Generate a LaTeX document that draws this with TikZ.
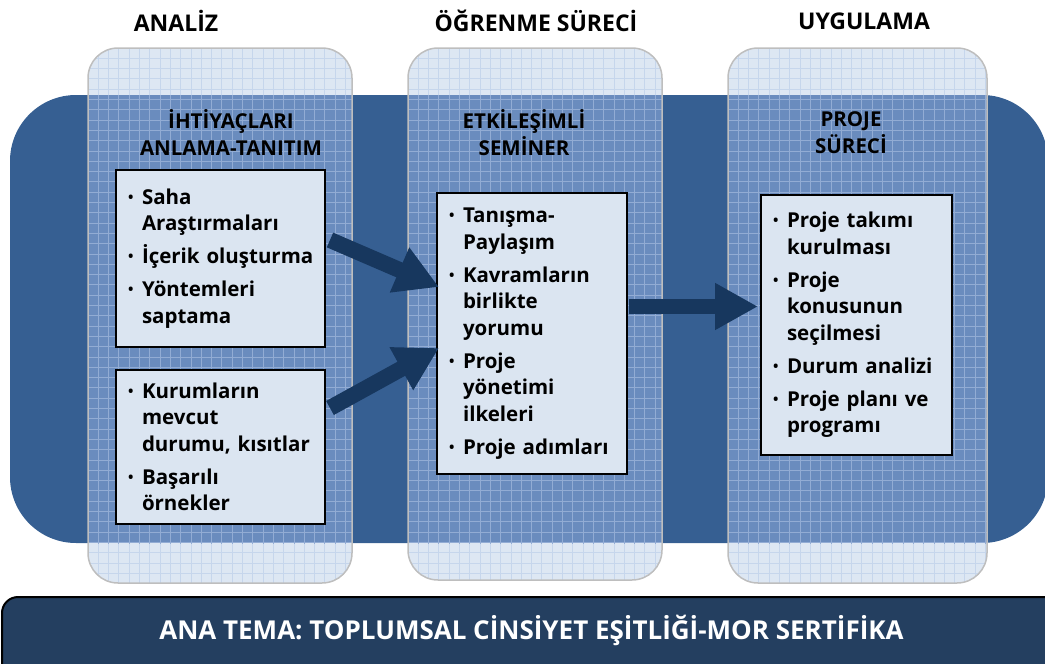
\documentclass[tikz,border=0pt]{standalone}
\usepackage{fontspec}
\setmainfont{Open Sans}
\usepackage{graphicx}
\usetikzlibrary{arrows.meta}
\definecolor{bandc}{RGB}{54,95,146}
\definecolor{collight}{RGB}{221,231,243}
\definecolor{collightline}{RGB}{198,214,236}
\definecolor{colmid}{RGB}{106,140,190}
\definecolor{colmidline}{RGB}{146,172,212}
\definecolor{colborder}{RGB}{190,190,190}
\definecolor{boxfill}{RGB}{219,229,241}
\definecolor{arrowc}{RGB}{23,55,94}
\definecolor{bannerc}{RGB}{36,63,96}
\newcommand\gridlines[5]{%
  \foreach \i in {0,...,27}{\draw[#5, line width=0.9pt] ({#1+\i*10.3},#2) -- ({#1+\i*10.3},#4);}%
  \foreach \j in {0,...,53}{\draw[#5, line width=0.9pt] (#1,{#2+\j*10.3}) -- (#3,{#2+\j*10.3});}%
}
\newcommand\colfill[4]{%
  \begin{scope}
    \clip[rounded corners=30pt] (#1,#2) rectangle (#3,#4);
    \fill[collight] (#1,#2) rectangle (#3,#4);
    \gridlines{#1}{#2}{#3}{#4}{collightline}
    \clip (#1,95) rectangle (#3,543);
    \fill[colmid] (#1,95) rectangle (#3,543);
    \gridlines{#1}{#2}{#3}{#4}{colmidline}
  \end{scope}
}
\newcommand\bitem[1]{\hangindent=14pt\hangafter=1\noindent\makebox[14pt][l]{\raisebox{2pt}{\scalebox{0.7}{•}}}#1\par}
\newcommand\igap{\vspace{6.5pt}}
\begin{document}
\begin{tikzpicture}[x=1pt,y=-1pt,
  colstyle/.style={rectangle, rounded corners=30pt, draw=colborder, line width=1.5pt, inner sep=0pt},
  txtbox/.style={rectangle, draw=black, line width=1.8pt, fill=boxfill, inner xsep=12pt, inner ysep=0pt,
     text width=#1, align=left, font=\fontsize{20.5}{26.5}\selectfont\bfseries},
  header/.style={font=\fontsize{23}{27}\selectfont\bfseries, inner sep=0pt},
  subheader/.style={font=\fontsize{20.5}{27}\selectfont\bfseries, align=center, inner sep=0pt},
  bigarrow/.style={arrowc, line width=16pt, -{Triangle[width=46pt,length=43pt]}}
]
\useasboundingbox (0,0) rectangle (1045,664);
\clip (0,0) rectangle (1045,664);
% blue band
\fill[bandc, rounded corners=66pt] (10,95) rectangle (1048,543);
% columns
\colfill{88}{48}{352}{583}
\colfill{408}{48}{662}{580}
\colfill{728}{48}{987}{583}
\node (c1) [colstyle, minimum width=264pt, minimum height=535pt] at (220,315.5) {};
\node (c2) [colstyle, minimum width=254pt, minimum height=532pt] at (535,314) {};
\node (c3) [colstyle, minimum width=259pt, minimum height=535pt] at (857.5,315.5) {};
% headers
\node (h1) [header] at (176,21) {ANALİZ};
\node (h2) [header] at (536,21) {ÖĞRENME SÜRECİ};
\node (h3) [header] at (864,21) {UYGULAMA};
% sub headers
\node (s1) [subheader] at (231,133) {İHTİYAÇLARI\\ANLAMA-TANITIM};
\node (s2) [subheader] at (524,133) {ETKİLEŞİMLİ\\SEMİNER};
\node (s3) [subheader] at (851,133) {PROJE\\SÜRECİ};
% text boxes
\node (b1) [txtbox=185pt, minimum height=177pt] at (220.5,258.5) {%
\bitem{\mbox{Saha}\newline\mbox{Araştırmaları}}\igap
\bitem{\mbox{İçerik oluşturma}}\igap
\bitem{\mbox{Yöntemleri}\newline\mbox{saptama}}};
\node (b2) [txtbox=185pt, minimum height=154pt] at (220.5,447) {%
\bitem{\mbox{Kurumların}\newline\mbox{mevcut}\newline\mbox{durumu, kısıtlar}}\igap
\bitem{\mbox{Başarılı}\newline\mbox{örnekler}}};
\node (b3) [txtbox=166pt, minimum height=281pt] at (532,333.5) {%
\bitem{\mbox{Tanışma-}\newline\mbox{Paylaşım}}\igap
\bitem{\mbox{Kavramların}\newline\mbox{birlikte}\newline\mbox{yorumu}}\igap
\bitem{\mbox{Proje}\newline\mbox{yönetimi}\newline\mbox{ilkeleri}}\igap
\bitem{\mbox{Proje adımları}}};
\node (b4) [txtbox=167pt, minimum height=260pt] at (856.5,325) {%
\bitem{\mbox{Proje takımı}\newline\mbox{kurulması}}\igap
\bitem{\mbox{Proje}\newline\mbox{konusunun}\newline\mbox{seçilmesi}}\igap
\bitem{\mbox{Durum analizi}}\igap
\bitem{\mbox{Proje planı ve}\newline\mbox{programı}}};
% arrows
\coordinate (a1s) at (330,240);
\coordinate (a1e) at (439,287);
\coordinate (a2s) at (330,408);
\coordinate (a2e) at (439,348);
\coordinate (a3s) at (629,306.5);
\coordinate (a3e) at (758,306.5);
\draw[bigarrow] (a1s) -- (a1e);
\draw[bigarrow] (a2s) -- (a2e);
\draw[bigarrow, line width=15pt, -{Triangle[width=44pt,length=43pt]}] (a3s) -- (a3e);
% banner
\node (ban) [draw=black, line width=2pt, fill=bannerc, rounded corners=16pt, minimum width=1100pt, minimum height=120pt, anchor=north west] at (1,596) {};
\node (bt) [font=\fontsize{26}{30}\selectfont\bfseries, text=white, inner sep=0pt] at (531.5,630) {ANA TEMA: TOPLUMSAL CİNSİYET EŞİTLİĞİ-MOR SERTİFİKA};
\end{tikzpicture}
\end{document}
